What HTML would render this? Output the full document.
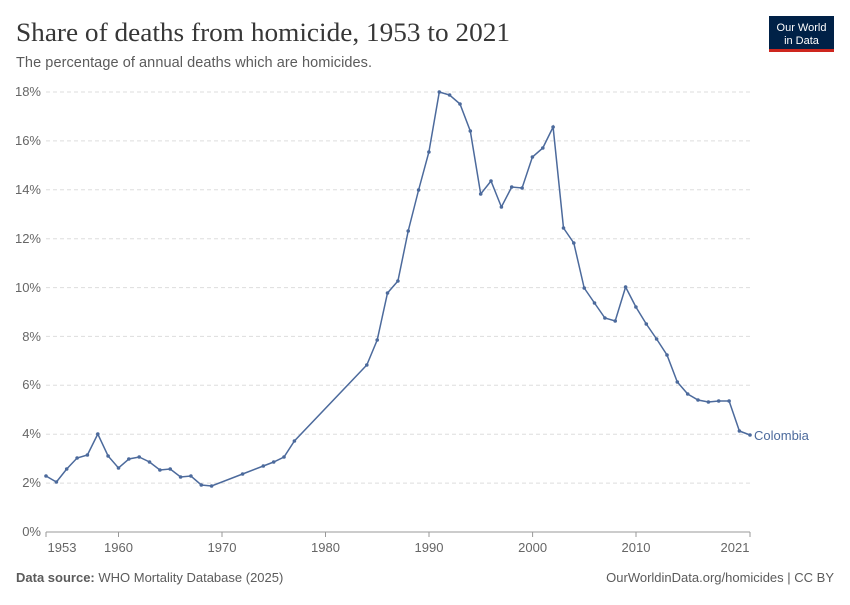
<!DOCTYPE html>
<html><head><meta charset="utf-8"><style>
body{margin:0;background:#fff;width:850px;height:600px;overflow:hidden;font-family:"Liberation Sans",sans-serif}
</style></head><body>
<svg width="850" height="600" xmlns="http://www.w3.org/2000/svg" font-family="Liberation Sans, sans-serif">
<text x="16" y="41" font-family="Liberation Serif, serif" font-size="26" fill="#373737" textLength="494" lengthAdjust="spacingAndGlyphs">Share of deaths from homicide, 1953 to 2021</text>
<text x="16" y="67" font-size="14.5" fill="#5b5b5b" textLength="356">The percentage of annual deaths which are homicides.</text>
<rect x="769" y="16" width="65" height="34" fill="#002147"/>
<rect x="769" y="49" width="65" height="3" fill="#ce261e"/>
<text x="801.5" y="31" font-size="11" fill="#fff" text-anchor="middle">Our World</text>
<text x="801.5" y="44" font-size="11" fill="#fff" text-anchor="middle">in Data</text>
<g stroke="#ddd" stroke-dasharray="4,3" stroke-width="1">
<line x1="46" x2="750" y1="483.1" y2="483.1"/><line x1="46" x2="750" y1="434.2" y2="434.2"/>
<line x1="46" x2="750" y1="385.3" y2="385.3"/><line x1="46" x2="750" y1="336.4" y2="336.4"/>
<line x1="46" x2="750" y1="287.6" y2="287.6"/><line x1="46" x2="750" y1="238.7" y2="238.7"/>
<line x1="46" x2="750" y1="189.8" y2="189.8"/><line x1="46" x2="750" y1="140.9" y2="140.9"/>
<line x1="46" x2="750" y1="92" y2="92"/>
</g>
<line x1="46" x2="750" y1="532" y2="532" stroke="#999"/>
<g font-size="13" fill="#666" text-anchor="end">
<text x="41" y="536">0%</text><text x="41" y="487">2%</text><text x="41" y="438">4%</text>
<text x="41" y="389">6%</text><text x="41" y="341">8%</text><text x="41" y="292">10%</text>
<text x="41" y="243">12%</text><text x="41" y="194">14%</text><text x="41" y="145">16%</text><text x="41" y="96">18%</text>
</g>
<g stroke="#999"><line x1="46" x2="46" y1="532" y2="537"/><line x1="118.5" x2="118.5" y1="532" y2="537"/><line x1="222" x2="222" y1="532" y2="537"/><line x1="325.5" x2="325.5" y1="532" y2="537"/><line x1="429" x2="429" y1="532" y2="537"/><line x1="532.6" x2="532.6" y1="532" y2="537"/><line x1="636" x2="636" y1="532" y2="537"/><line x1="750" x2="750" y1="532" y2="537"/></g>
<g font-size="13" fill="#666" text-anchor="middle">
<text x="62" y="552">1953</text><text x="118.5" y="552">1960</text><text x="222" y="552">1970</text><text x="325.5" y="552">1980</text><text x="429" y="552">1990</text><text x="532.6" y="552">2000</text><text x="636" y="552">2010</text><text x="735" y="552">2021</text>
</g>
<polyline fill="none" stroke="#4c6a9c" stroke-width="1.5" points="46,476 56.4,482 66.7,469 77.1,458 87.4,455 97.8,434 108.1,456 118.5,468 128.8,459 139.2,457 149.5,462 159.9,470 170.2,469 180.6,477 190.9,476 201.3,485 211.6,486 242.6,474 263.3,466 273.7,462 284,457 294.4,441 366.8,365 377.2,340 387.5,293 397.9,281 408.2,231 418.6,190 428.9,152 439.3,92 449.6,95 460,104 470.3,131 480.7,194 491,181 501.4,207 511.7,187 522.1,188 532.4,157 542.8,148 553.1,127 563.5,228 573.8,243 584.2,288 594.5,303 604.9,318 615.2,321 625.6,287 635.9,307 646.3,324 656.6,339 667,355 677.3,382 687.7,394 698,400 708.4,402 718.7,401 729.1,401 739.4,431 750,435"/>
<g fill="#4c6a9c">
<circle cx="46" cy="476" r="1.8"/><circle cx="56.4" cy="482" r="1.8"/><circle cx="66.7" cy="469" r="1.8"/><circle cx="77.1" cy="458" r="1.8"/><circle cx="87.4" cy="455" r="1.8"/><circle cx="97.8" cy="434" r="1.8"/><circle cx="108.1" cy="456" r="1.8"/><circle cx="118.5" cy="468" r="1.8"/><circle cx="128.8" cy="459" r="1.8"/><circle cx="139.2" cy="457" r="1.8"/><circle cx="149.5" cy="462" r="1.8"/><circle cx="159.9" cy="470" r="1.8"/><circle cx="170.2" cy="469" r="1.8"/><circle cx="180.6" cy="477" r="1.8"/><circle cx="190.9" cy="476" r="1.8"/><circle cx="201.3" cy="485" r="1.8"/><circle cx="211.6" cy="486" r="1.8"/><circle cx="242.6" cy="474" r="1.8"/><circle cx="263.3" cy="466" r="1.8"/><circle cx="273.7" cy="462" r="1.8"/><circle cx="284" cy="457" r="1.8"/><circle cx="294.4" cy="441" r="1.8"/><circle cx="366.8" cy="365" r="1.8"/><circle cx="377.2" cy="340" r="1.8"/><circle cx="387.5" cy="293" r="1.8"/><circle cx="397.9" cy="281" r="1.8"/><circle cx="408.2" cy="231" r="1.8"/><circle cx="418.6" cy="190" r="1.8"/><circle cx="428.9" cy="152" r="1.8"/><circle cx="439.3" cy="92" r="1.8"/><circle cx="449.6" cy="95" r="1.8"/><circle cx="460" cy="104" r="1.8"/><circle cx="470.3" cy="131" r="1.8"/><circle cx="480.7" cy="194" r="1.8"/><circle cx="491" cy="181" r="1.8"/><circle cx="501.4" cy="207" r="1.8"/><circle cx="511.7" cy="187" r="1.8"/><circle cx="522.1" cy="188" r="1.8"/><circle cx="532.4" cy="157" r="1.8"/><circle cx="542.8" cy="148" r="1.8"/><circle cx="553.1" cy="127" r="1.8"/><circle cx="563.5" cy="228" r="1.8"/><circle cx="573.8" cy="243" r="1.8"/><circle cx="584.2" cy="288" r="1.8"/><circle cx="594.5" cy="303" r="1.8"/><circle cx="604.9" cy="318" r="1.8"/><circle cx="615.2" cy="321" r="1.8"/><circle cx="625.6" cy="287" r="1.8"/><circle cx="635.9" cy="307" r="1.8"/><circle cx="646.3" cy="324" r="1.8"/><circle cx="656.6" cy="339" r="1.8"/><circle cx="667" cy="355" r="1.8"/><circle cx="677.3" cy="382" r="1.8"/><circle cx="687.7" cy="394" r="1.8"/><circle cx="698" cy="400" r="1.8"/><circle cx="708.4" cy="402" r="1.8"/><circle cx="718.7" cy="401" r="1.8"/><circle cx="729.1" cy="401" r="1.8"/><circle cx="739.4" cy="431" r="1.8"/><circle cx="750" cy="435" r="1.8"/>
</g>
<text x="754" y="440" font-size="13" fill="#4c6a9c">Colombia</text>
<text x="16" y="582" font-size="13" fill="#5b5b5b"><tspan font-weight="bold">Data source:</tspan> WHO Mortality Database (2025)</text>
<text x="834" y="582" font-size="13" fill="#5b5b5b" text-anchor="end">OurWorldinData.org/homicides | CC BY</text>
</svg>
</body></html>
